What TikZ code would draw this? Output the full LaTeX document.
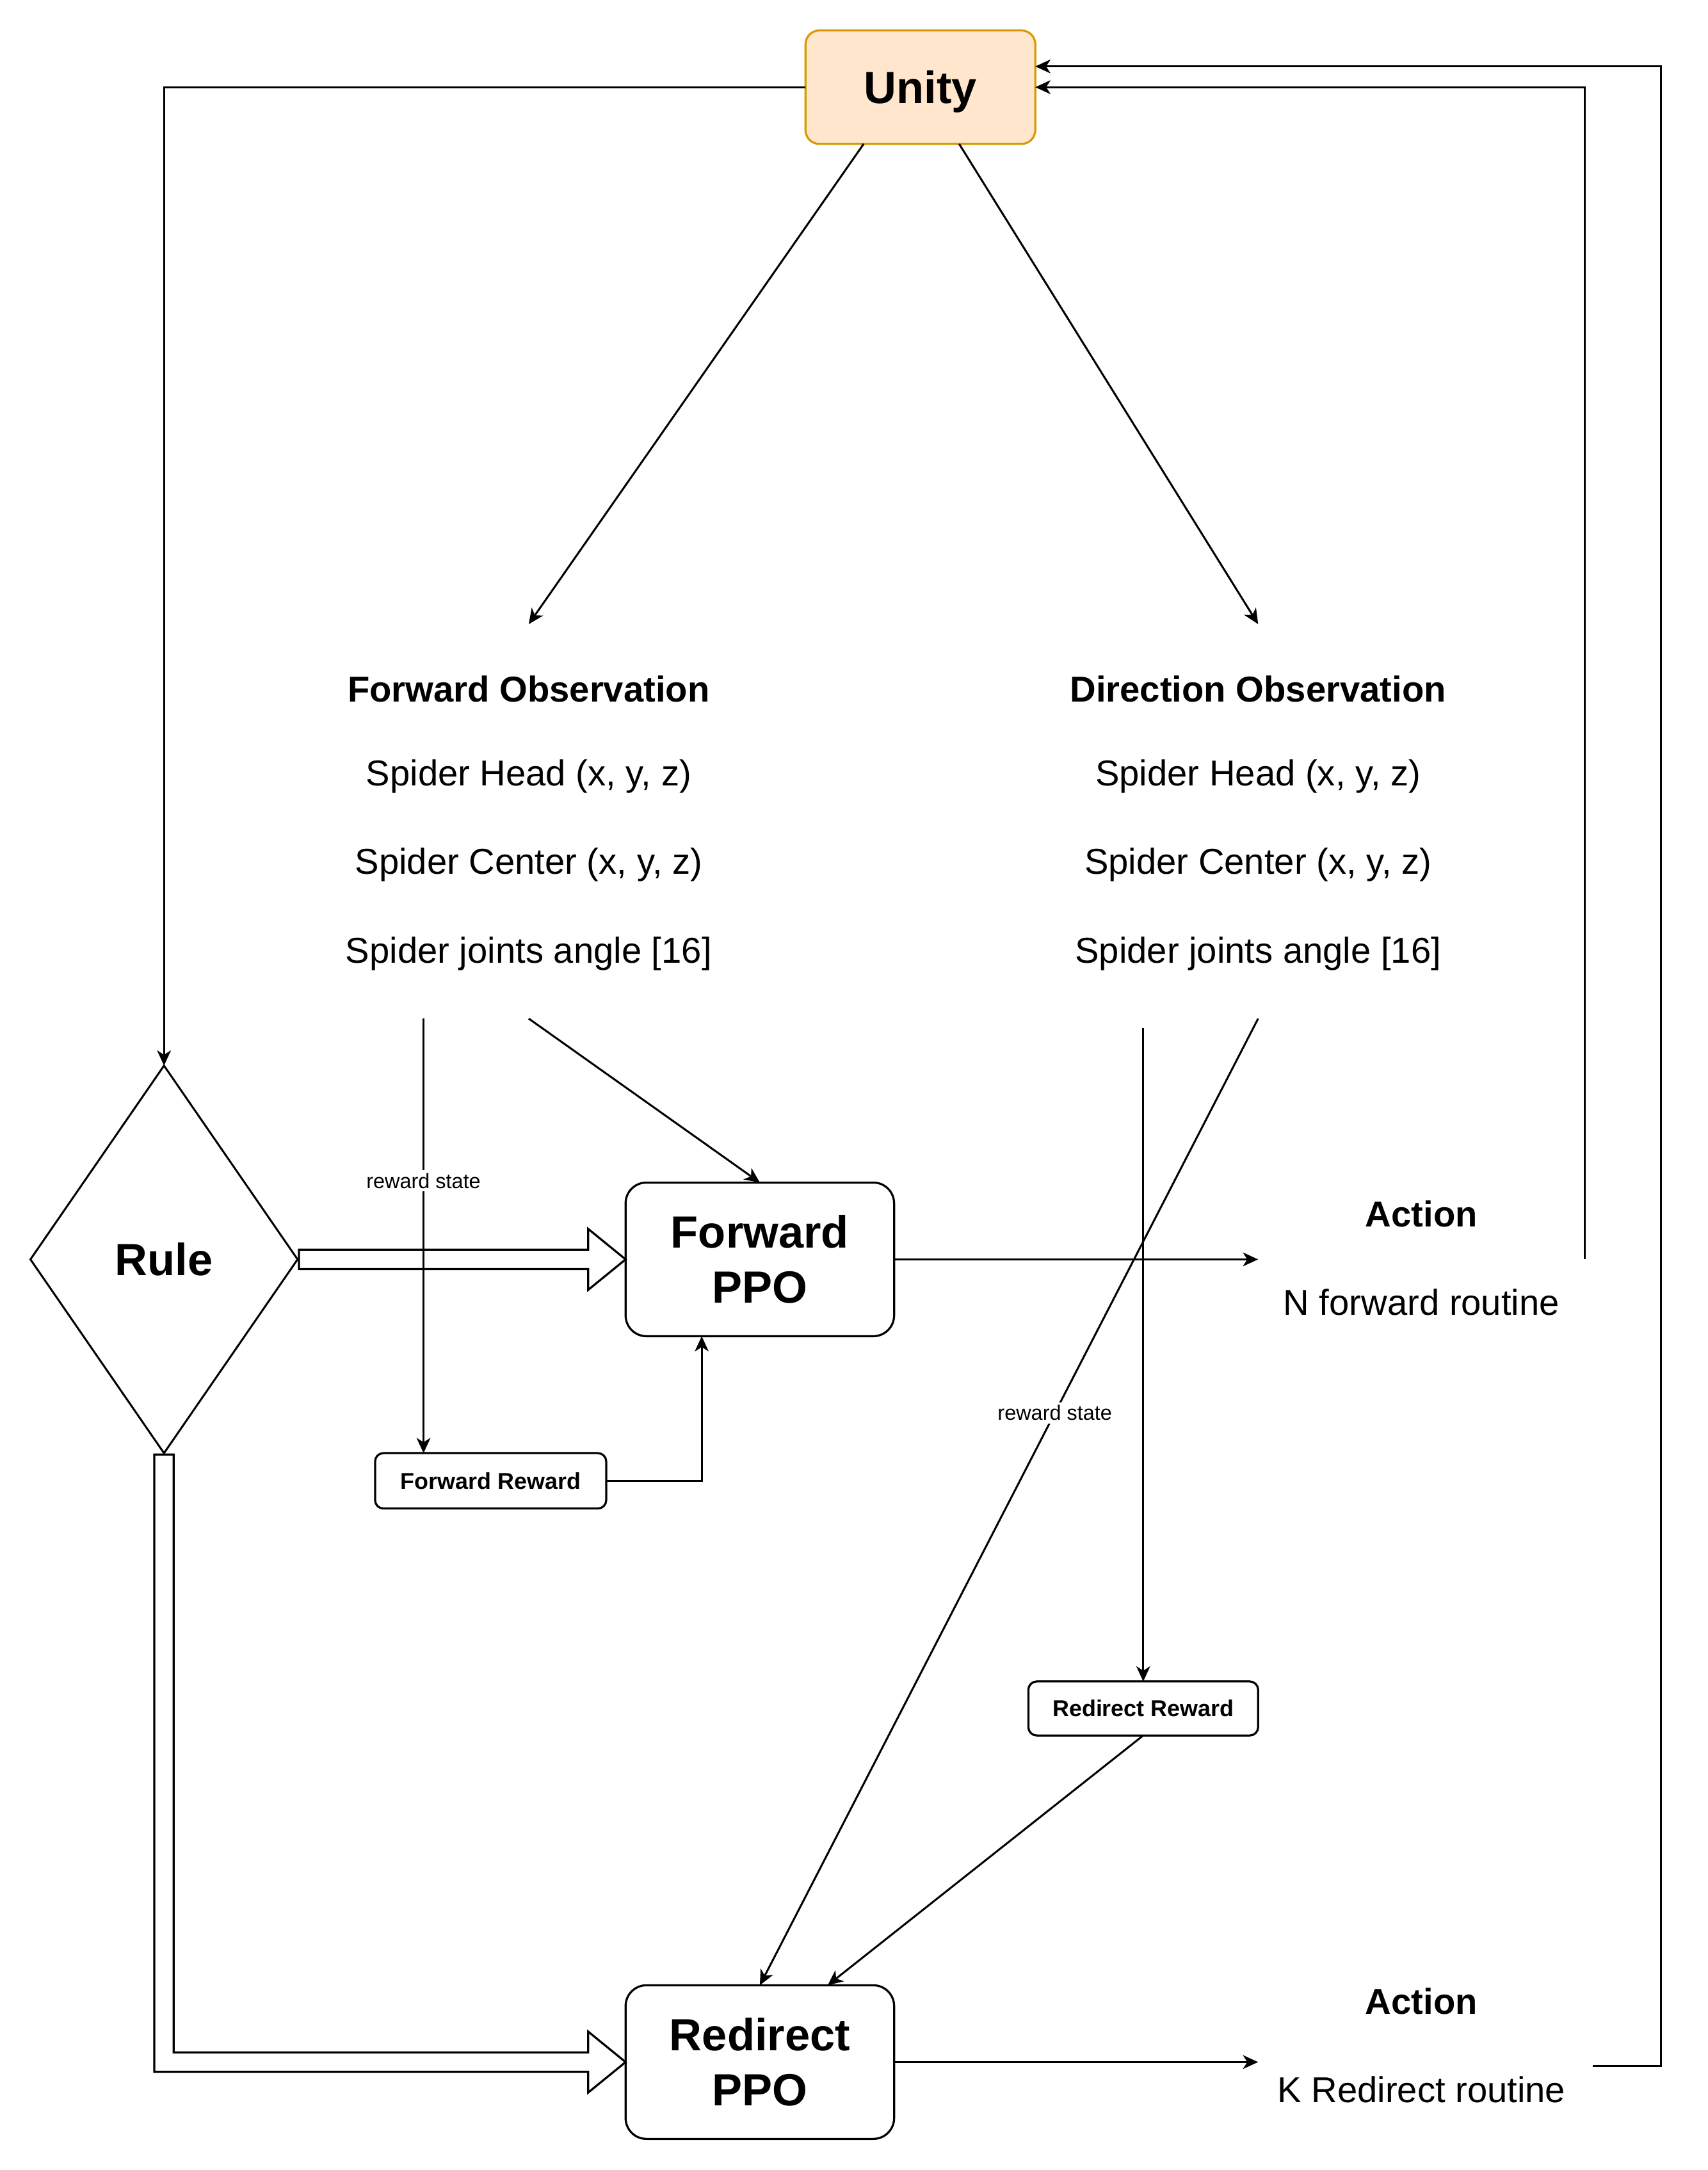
\documentclass[tikz,border=0pt]{standalone}
\usepackage{fontspec}
\setmainfont{Liberation Sans}
\usetikzlibrary{shapes.geometric,arrows.meta,calc}
\definecolor{uorange}{HTML}{FFE6CC}
\definecolor{ustroke}{HTML}{D79B00}
\begin{document}
\begin{tikzpicture}[x=0.5pt,y=-0.5pt,
  every node/.style={inner sep=0pt, outer sep=0pt},
  line/.style={line width=0.7pt},
  arr/.style={line, -{Stealth[length=5.5pt,width=5pt,inset=1.6pt]}},
  bigbox/.style={draw, line width=0.75pt, rounded corners=7.5pt, align=center, font=\bfseries\fontsize{16.3}{20}\selectfont},
  smallbox/.style={draw, line width=0.75pt, rounded corners=3pt, font=\bfseries\fontsize{8.3}{10}\selectfont},
  obstitle/.style={font=\bfseries\fontsize{13}{15}\selectfont},
  obsline/.style={font=\fontsize{13}{15}\selectfont},
  lbl/.style={font=\fontsize{7.5}{9}\selectfont, fill=white, inner sep=1pt},
  fat/.style={draw, line width=0.75pt, fill=white}
]
\useasboundingbox (0,0) rectangle (1234,1568);

% nodes
\node[bigbox, fill=uorange, draw=ustroke, rounded corners=5pt, minimum width=83pt, minimum height=41pt, text depth=0pt] (unity) at (665,63) {Unity};
\node[draw, diamond, line width=0.7pt, minimum width=96.5pt, minimum height=140pt, aspect=0.69, font=\bfseries\fontsize{16.3}{20}\selectfont] (rule) at (118.5,910) {Rule};

\node[minimum width=150pt, minimum height=142.5pt] (fobs) at (382,593.5) {};
\node[obstitle] (fobst) at (382,498) {Forward Observation};
\node[obsline] (fobs1) at (382,561) {Spider Head (x, y, z)};
\node[obsline] (fobs2) at (382,625) {Spider Center (x, y, z)};
\node[obsline] (fobs3) at (382,689) {Spider joints angle [16]};

\node[minimum width=150pt, minimum height=142.5pt] (dobs) at (909,593.5) {};
\node[obstitle] (dobst) at (909,498) {Direction Observation};
\node[obsline] (dobs1) at (909,561) {Spider Head (x, y, z)};
\node[obsline] (dobs2) at (909,625) {Spider Center (x, y, z)};
\node[obsline] (dobs3) at (909,689) {Spider joints angle [16]};

\node[bigbox, minimum width=97pt, minimum height=55.5pt] (fppo) at (549,910) {Forward\\PPO};
\node[bigbox, minimum width=97pt, minimum height=55.5pt] (rppo) at (549,1490) {Redirect\\PPO};

\node[smallbox, minimum width=83.5pt, minimum height=20pt] (frew) at (354.5,1070) {Forward Reward};
\node[smallbox, minimum width=83pt, minimum height=19.5pt] (rrew) at (826,1234.5) {Redirect Reward};

\node[minimum width=118pt, minimum height=60pt] (act1) at (1027,910) {};
\node[obstitle] (act1t) at (1027,877) {Action};
\node[obsline] (act1r) at (1027,941) {N forward routine};

\node[minimum width=121pt, minimum height=60pt] (act2) at (1030,1490) {};
\node[obstitle] (act2t) at (1027,1446) {Action};
\node[obsline] (act2r) at (1027,1510) {K Redirect routine};

% fat arrows
\draw[fat] ($(rule.east)+(1,-7)$) -- ($(fppo.west)+(-27,-7)$) -- ($(fppo.west)+(-27,-22)$) -- (fppo.west)
  -- ($(fppo.west)+(-27,22)$) -- ($(fppo.west)+(-27,7)$) -- ($(rule.east)+(1,7)$) -- cycle;
\coordinate (corner) at (rule.south |- rppo.west);
\draw[fat] ($(rule.south)+(-7,1)$) -- ($(corner)+(-7,7)$) -- ($(rppo.west)+(-27,7)$) -- ($(rppo.west)+(-27,22)$)
  -- (rppo.west) -- ($(rppo.west)+(-27,-22)$) -- ($(rppo.west)+(-27,-7)$) -- ($(corner)+(7,-7)$)
  -- ($(rule.south)+(7,1)$) -- cycle;

% connectors
\draw[arr] (unity.west) -| (rule.north);
\draw[arr] ($(unity.south)+(-41,0)$) -- (fobs.north);
\draw[arr] ($(unity.south)+(28,0)$) -- (dobs.north);

\coordinate (fs) at (306,736);
\draw[arr] (fs) -- node[lbl, pos=0.373] {reward state} (fs |- frew.north);
\draw[arr] (fobs.south) -- (fppo.north);
\draw[arr] (frew.east) -| ($(fppo.south)+(-42,0)$);

\coordinate (ds) at (826,743);
\draw[arr] (ds) -- (rrew.north);
\draw[arr] (dobs.south) -- node[lbl, pos=0.408] {reward state} (rppo.north);
\draw[arr] (rrew.south) -- ($(rppo.north)+(49,0)$);

\draw[arr] (fppo.east) -- (act1.west);
\draw[arr] (act1.east) |- (unity.east);
\draw[arr] (rppo.east) -- (act2.west);
\coordinate (u2) at ($(unity.east)+(0,-15)$);
\draw[arr] ($(act2.east)+(0,3)$) -- ++(49,0) |- (u2);
\end{tikzpicture}
\end{document}
